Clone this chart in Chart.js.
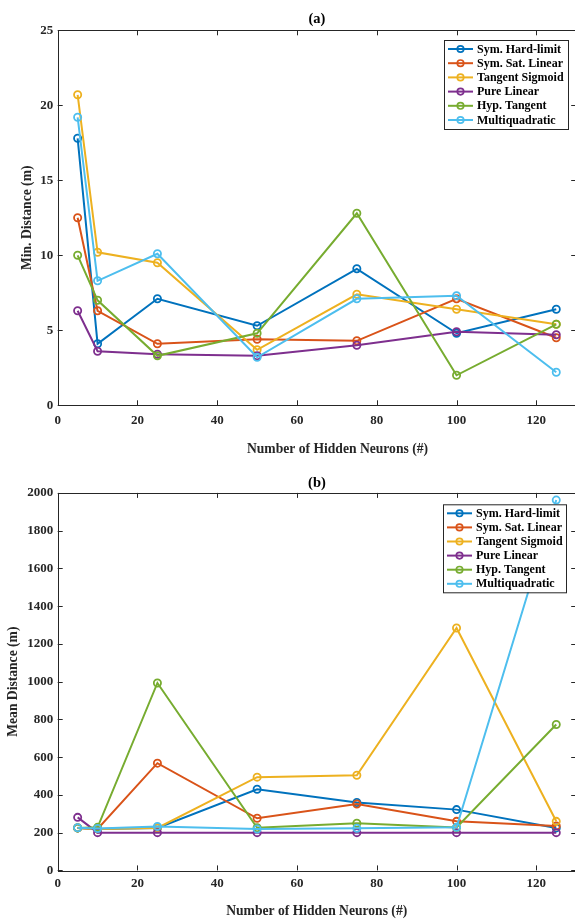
<!DOCTYPE html>
<html>
<head>
<meta charset="utf-8">
<script src="https://cdn.jsdelivr.net/npm/chart.js@4.4.1/dist/chart.umd.min.js"></script>
<style>
html, body { margin: 0; padding: 0; background: #fff; overflow: hidden; }
canvas { display: block; }
</style>
</head>
<body>
<canvas id="minChart" width="582" height="460"></canvas>
<canvas id="meanChart" width="582" height="460"></canvas>
<script>
// hidden neuron counts (x)
const neurons = [5, 10, 25, 50, 75, 100, 125];
const seriesNames = ["Sym. Hard-limit", "Sym. Sat. Linear", "Tangent Sigmoid", "Pure Linear", "Hyp. Tangent", "Multiquadratic"];
const seriesColors = ["#0072BD", "#D95319", "#EDB120", "#7E2F8E", "#77AC30", "#4DBEEE"];

// (a) min distance, m
const minHardLimit = [17.8, 4.1, 7.1, 5.3, 9.1, 4.8, 6.4];
const minSatLinear = [12.5, 6.3, 4.1, 4.4, 4.3, 7.1, 4.5];
const minTanSig = [20.7, 10.2, 9.5, 3.7, 7.4, 6.4, 5.4];
const minPureLin = [6.3, 3.6, 3.4, 3.3, 4.0, 4.9, 4.7];
const minHypTan = [10.0, 7.0, 3.3, 4.8, 12.8, 2.0, 5.4];
const minMultiquad = [19.2, 8.3, 10.1, 3.2, 7.1, 7.3, 2.2];

// (b) mean distance, m
const meanHardLimit = [225, 220, 225, 430, 360, 322, 225];
const meanSatLinear = [225, 220, 568, 276, 352, 260, 235];
const meanTanSig = [225, 220, 225, 494, 504, 1284, 260];
const meanPureLin = [281, 200, 200, 200, 200, 200, 200];
const meanHypTan = [225, 228, 993, 226, 250, 227, 773];
const meanMultiquad = [226, 222, 233, 219, 223, 228, 1962];

const axisColor = "#262626";
const serif = "'Liberation Serif', 'Times New Roman', serif";
const tickFont = { family: serif, size: 13, weight: "bold" };
const labelFont = { family: serif, size: 13.6, weight: "bold" };
const titleFont = { family: serif, size: 14.5, weight: "bold" };

// MATLAB style box: inward ticks on all four sides, x label, legend box
const matlabBox = {
    id: "matlabBox",
    afterDatasetsDraw(chart, args, opts)
    {
        const { ctx, chartArea: { left, right, top, bottom }, scales: { x, y } } = chart;
        const len = 5;
        ctx.save();
        ctx.strokeStyle = axisColor;
        ctx.lineWidth = 1;
        ctx.beginPath();
        for (const t of x.ticks)
        {
            const px = Math.round(x.getPixelForValue(t.value)) + 0.5;
            ctx.moveTo(px, bottom); ctx.lineTo(px, bottom - len);
            ctx.moveTo(px, top); ctx.lineTo(px, top + len);
        }
        for (const t of y.ticks)
        {
            const py = Math.round(y.getPixelForValue(t.value)) + 0.5;
            ctx.moveTo(left, py); ctx.lineTo(left + len, py);
            ctx.moveTo(right, py); ctx.lineTo(right - len, py);
        }
        ctx.stroke();
        ctx.strokeRect(Math.round(left) + 0.5, Math.round(top) + 0.5, Math.round(right - left), Math.round(bottom - top));
        ctx.restore();
    },
    afterDraw(chart, args, opts)
    {
        const { ctx } = chart;
        ctx.save();

        // x axis label
        ctx.fillStyle = axisColor;
        ctx.font = "bold 13.6px " + serif;
        ctx.textAlign = "center";
        ctx.textBaseline = "middle";
        ctx.fillText("Number of Hidden Neurons (#)", opts.xTitleX, opts.xTitleY);

        // legend
        const b = opts.box;
        ctx.textAlign = "left";
        ctx.fillStyle = "#fff";
        ctx.fillRect(b.x, b.y, b.w, b.h);
        ctx.strokeStyle = axisColor;
        ctx.lineWidth = 1;
        ctx.strokeRect(b.x + 0.5, b.y + 0.5, b.w, b.h);
        ctx.font = "bold 12px " + serif;
        chart.data.datasets.forEach((ds, i) =>
        {
            const cy = b.y + 9 + i * b.step;
            ctx.strokeStyle = ds.borderColor;
            ctx.lineWidth = 2;
            ctx.beginPath();
            ctx.moveTo(b.x + 4, cy); ctx.lineTo(b.x + 29, cy);
            ctx.stroke();
            ctx.lineWidth = 1.7;
            ctx.beginPath();
            ctx.arc(b.x + 16.5, cy, 3.2, 0, Math.PI * 2);
            ctx.stroke();
            ctx.fillStyle = "#000";
            ctx.fillText(ds.label, b.x + 33, cy + 0.5);
        });
        ctx.restore();
    }
};

function makeDatasets(seriesList)
{
    return seriesList.map((values, i) => ({
        label: seriesNames[i],
        data: values,
        borderColor: seriesColors[i],
        backgroundColor: seriesColors[i],
        pointBorderColor: seriesColors[i],
        pointBackgroundColor: "rgba(0,0,0,0)",
        borderWidth: 2,
        pointRadius: 3.6,
        pointBorderWidth: 1.8,
        tension: 0,
        order: seriesList.length - i
    }));
}

function makeChart(id, opt)
{
    return new Chart(document.getElementById(id), {
        type: "line",
        data: { labels: neurons, datasets: makeDatasets(opt.series) },
        options: {
            responsive: false,
            animation: false,
            devicePixelRatio: 1,
            layout: { padding: { left: 0, right: 582 - 577.7, top: 0, bottom: 0 } },
            scales: {
                x: {
                    type: "linear",
                    min: 0,
                    max: 130,
                    grid: { display: false, drawTicks: false },
                    border: { display: false },
                    ticks: { stepSize: 20, includeBounds: false, padding: opt.xTickPad, color: axisColor, font: tickFont, maxRotation: 0, callback: v => String(v) },
                    afterFit: s => { s.height = opt.xAxisH; }
                },
                y: {
                    min: 0,
                    max: opt.yMax,
                    grid: { display: false, drawTicks: false },
                    border: { display: false },
                    ticks: { stepSize: opt.yStep, padding: 4.4, color: axisColor, font: tickFont, callback: v => String(v) },
                    title: { display: true, text: opt.yTitle, color: axisColor, font: labelFont, padding: { top: opt.yTitlePad, bottom: 0 } },
                    afterFit: s => { s.width = 57.7; }
                }
            },
            plugins: {
                legend: { display: false },
                tooltip: { enabled: false },
                title: { display: true, text: opt.title, fullSize: false, color: "#000", font: titleFont, padding: opt.titlePad },
                matlabBox: { box: opt.legendBox, xTitleX: opt.xTitleX, xTitleY: opt.xTitleY }
            }
        },
        plugins: [matlabBox]
    });
}

makeChart("minChart", {
    series: [minHardLimit, minSatLinear, minTanSig, minPureLin, minHypTan, minMultiquad],
    title: "(a)",
    titlePad: { top: 10.3, bottom: 2.6 },
    yTitle: "Min. Distance (m)",
    yTitlePad: 19.8,
    yMax: 25,
    yStep: 5,
    xAxisH: 54.7,
    xTickPad: 8,
    xTitleX: 337.5,
    xTitleY: 449,
    legendBox: { x: 444, y: 40, w: 124, h: 89, step: 14.2 }
});

makeChart("meanChart", {
    series: [meanHardLimit, meanSatLinear, meanTanSig, meanPureLin, meanHypTan, meanMultiquad],
    title: "(b)",
    titlePad: { top: 14.8, bottom: 0.7 },
    yTitle: "Mean Distance (m)",
    yTitlePad: 5.1,
    yMax: 2000,
    yStep: 200,
    xAxisH: 49.6,
    xTickPad: 5,
    xTitleX: 316.7,
    xTitleY: 451,
    legendBox: { x: 443, y: 44.3, w: 123, h: 88, step: 14.1 }
});
</script>
</body>
</html>
